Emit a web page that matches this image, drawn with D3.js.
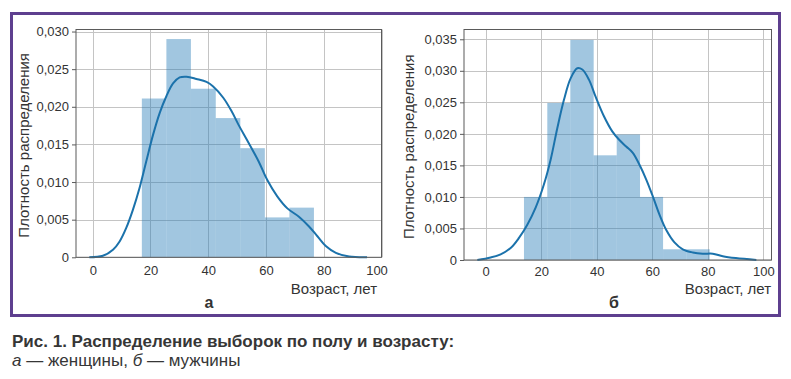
<!DOCTYPE html>
<html><head><meta charset="utf-8">
<script src="https://cdn.jsdelivr.net/npm/d3@7/dist/d3.min.js"></script>
<style>
body{margin:0;background:#fff;}
svg{display:block;font-family:"Liberation Sans",Arial,sans-serif;}
</style></head><body>
<svg id="chart" width="791" height="379"></svg>
<script>
// ---- data ----
const xTicks = [0, 20, 40, 60, 80, 100];
const yTicksA = [0, 0.005, 0.010, 0.015, 0.020, 0.025, 0.030];
const yTicksB = [0, 0.005, 0.010, 0.015, 0.020, 0.025, 0.030, 0.035];

// panel a (women): histogram bin edges and densities
const binEdgesA = [17.0, 25.5, 34.0, 42.6, 51.1, 59.6, 68.1, 76.6];
const densityA = [0.0211, 0.0290, 0.0224, 0.0185, 0.0145, 0.0053, 0.0066];
// KDE curve a
const kdeXA = [-1.2, 3.5, 7.0, 9.3, 11.6, 13.9, 16.2, 18.5, 20.9, 23.2, 25.5, 27.8, 30.1, 32.5, 35.9, 39.4, 41.7, 45.2, 48.1, 50.5, 54.0, 57.5, 60.4, 63.9, 67.4, 71.4, 74.9, 77.8, 80.7, 84.2, 88.8, 95.0];
const kdeYA = [0.0000, 0.0002, 0.0010, 0.0021, 0.0039, 0.0063, 0.0092, 0.0127, 0.0163, 0.0192, 0.0214, 0.0231, 0.0239, 0.0240, 0.0237, 0.0233, 0.0227, 0.0212, 0.0194, 0.0176, 0.0152, 0.0127, 0.0103, 0.0081, 0.0065, 0.0054, 0.0041, 0.0028, 0.0015, 0.0006, 0.0001, 0.0000];

// panel б (men)
const binEdgesB = [13.8, 22.2, 30.5, 38.9, 47.2, 55.6, 63.9, 72.3, 80.7];
const densityB = [0.0100, 0.0249, 0.0349, 0.0166, 0.0199, 0.0100, 0.0017, 0.0017];
const kdeXB = [-3.0, 1.8, 5.4, 9.0, 12.0, 15.0, 18.0, 21.0, 23.4, 25.8, 28.2, 30.6, 33.0, 34.8, 37.2, 39.6, 42.6, 45.6, 48.0, 50.6, 53.0, 55.4, 57.8, 60.2, 62.6, 65.0, 68.0, 71.0, 74.6, 78.2, 81.8, 85.4, 90.1, 97.5];
const kdeYB = [0.0000, 0.0004, 0.0009, 0.0019, 0.0035, 0.0056, 0.0083, 0.0120, 0.0159, 0.0209, 0.0254, 0.0288, 0.0304, 0.0302, 0.0286, 0.0259, 0.0228, 0.0204, 0.0191, 0.0180, 0.0170, 0.0151, 0.0128, 0.0101, 0.0072, 0.0048, 0.0028, 0.0017, 0.0012, 0.0010, 0.0010, 0.0006, 0.0003, 0.0000];

const yLabel = "Плотность распределения";
const xLabel = "Возраст, лет";
const captionLine1 = "Рис. 1. Распределение выборок по полу и возрасту:";

// ---- drawing ----
const svg = d3.select("#chart");
const fmt = v => v === 0 ? "0" : d3.format(".3f")(v).replace(".", ",");

// outer frame
svg.append("rect").attr("x", 11.5).attr("y", 13.5).attr("width", 768).attr("height", 302)
  .attr("fill", "none").attr("stroke", "#5e3f8f").attr("stroke-width", 3);

function panel(o) {
  const x = d3.scaleLinear().domain(o.xDomain).range([o.left, o.right]);
  const y = d3.scaleLinear().domain(o.yDomain).range([o.bottom, o.top]);
  const g = svg.append("g");

  // grid
  g.append("g").selectAll("line").data(xTicks).join("line")
    .attr("x1", d => Math.round(x(d)) + 0.5).attr("x2", d => Math.round(x(d)) + 0.5)
    .attr("y1", o.top).attr("y2", o.bottom)
    .attr("stroke", "#c4c4c4").attr("stroke-width", 1);
  g.append("g").selectAll("line").data(o.yTicks).join("line")
    .attr("x1", o.left).attr("x2", o.right)
    .attr("y1", d => Math.round(y(d)) + 0.5).attr("y2", d => Math.round(y(d)) + 0.5)
    .attr("stroke", "#c4c4c4").attr("stroke-width", 1);

  // bars
  g.append("g").selectAll("rect").data(o.density).join("rect")
    .attr("x", (d, i) => x(o.edges[i]))
    .attr("width", (d, i) => x(o.edges[i + 1]) - x(o.edges[i]))
    .attr("y", d => y(d))
    .attr("height", d => y(0) - y(d))
    .attr("fill", "#1f77b4").attr("fill-opacity", 0.42);

  // kde
  const pts = o.kdeX.map((v, i) => [v, o.kdeY[i]]);
  g.append("path").datum(pts)
    .attr("d", d3.line().x(d => x(d[0])).y(d => y(d[1])).curve(d3.curveCatmullRom.alpha(0.5)))
    .attr("fill", "none").attr("stroke", "#1b72ab").attr("stroke-width", 2);

  // frame
  g.append("rect").attr("x", o.left).attr("y", o.top)
    .attr("width", o.right - o.left).attr("height", o.bottom - o.top)
    .attr("fill", "none").attr("stroke", "#5a5a5a").attr("stroke-width", 1);

  // axes
  const ya = g.append("g").attr("transform", `translate(${o.left},0)`)
    .call(d3.axisLeft(y).tickValues(o.yTicks).tickFormat(fmt).tickSize(4).tickPadding(3));
  ya.select(".domain").remove();
  ya.selectAll("line").attr("stroke", "#5a5a5a");
  ya.selectAll("text").attr("font-size", 13).attr("fill", "#333").attr("font-family", "Liberation Sans, Arial, sans-serif");

  const xa = g.append("g").attr("transform", `translate(0,${o.bottom})`)
    .call(d3.axisBottom(x).tickValues(xTicks).tickFormat(d3.format("d")).tickSize(0).tickPadding(o.xPad));
  xa.select(".domain").remove();
  xa.selectAll("text").attr("font-size", 13).attr("fill", "#333").attr("font-family", "Liberation Sans, Arial, sans-serif")
    .attr("dx", d => d === 100 ? o.lastDx : 0);

  // labels
  g.append("text").attr("transform", `translate(${o.yLabelX},${(o.top + o.bottom) / 2 + 2}) rotate(-90)`)
    .attr("text-anchor", "middle").attr("font-size", 15).attr("fill", "#333").text(yLabel);
  g.append("text").attr("x", o.xLabelRight).attr("y", 294).attr("text-anchor", "end")
    .attr("font-size", 15).attr("fill", "#333").text(xLabel);
  g.append("text").attr("x", o.subX).attr("y", 308).attr("text-anchor", "middle")
    .attr("font-size", 16).attr("font-weight", "bold").attr("fill", "#333").text(o.sub);
}

panel({left: 76, right: 381.5, top: 29.5, bottom: 257.3, xDomain: [-5.8, 100], yDomain: [0, 0.03027],
  edges: binEdgesA, density: densityA, kdeX: kdeXA, kdeY: kdeYA, yTicks: yTicksA, xPad: 8,
  yLabelX: 29, xLabelRight: 377, subX: 209, sub: "а", lastDx: -5});
panel({left: 464, right: 771.5, top: 29.5, bottom: 260, xDomain: [-7.8, 102.95], yDomain: [0, 0.03655],
  edges: binEdgesB, density: densityB, kdeX: kdeXB, kdeY: kdeYB, yTicks: yTicksB, xPad: 6.5,
  yLabelX: 414, xLabelRight: 771, subX: 614, sub: "б", lastDx: 0});

// caption
svg.append("text").attr("x", 12).attr("y", 346.5).attr("font-size", 17).attr("font-weight", "bold")
  .attr("fill", "#363636").text(captionLine1);
const c2 = svg.append("text").attr("x", 12).attr("y", 365.5).attr("font-size", 17).attr("fill", "#363636");
c2.append("tspan").attr("font-style", "italic").text("а");
c2.append("tspan").text(" — женщины, ");
c2.append("tspan").attr("font-style", "italic").text("б");
c2.append("tspan").text(" — мужчины");
</script>
</body></html>
